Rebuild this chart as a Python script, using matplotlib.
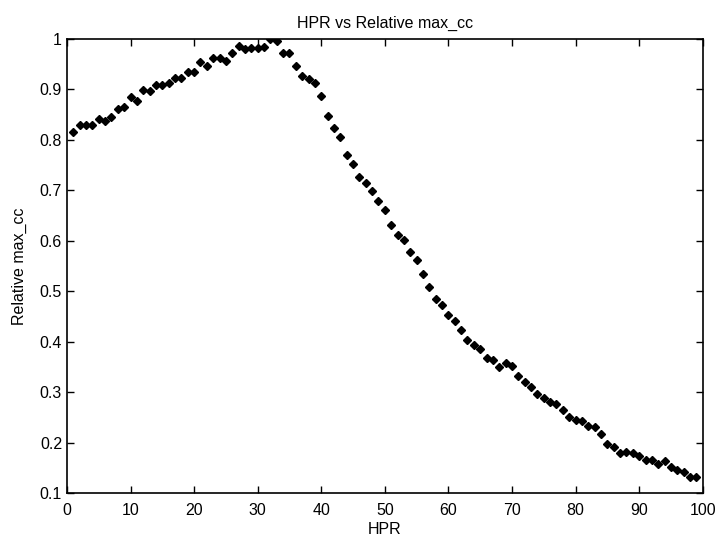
import matplotlib
matplotlib.use("Agg")
import matplotlib.pyplot as plt

hpr = list(range(1, 100))
rel_max_cc = [
    0.815, 0.829, 0.829, 0.829, 0.841, 0.838, 0.846, 0.861, 0.866, 0.884,
    0.878, 0.898, 0.897, 0.908, 0.909, 0.912, 0.923, 0.923, 0.935, 0.935,
    0.955, 0.946, 0.963, 0.963, 0.957, 0.972, 0.987, 0.981, 0.982, 0.982,
    0.985, 1.000, 0.996, 0.972, 0.972, 0.946, 0.927, 0.921, 0.912, 0.886,
    0.847, 0.823, 0.806, 0.770, 0.752, 0.726, 0.715, 0.698, 0.678, 0.661,
    0.631, 0.612, 0.601, 0.578, 0.561, 0.534, 0.509, 0.484, 0.472, 0.452,
    0.441, 0.424, 0.403, 0.393, 0.385, 0.368, 0.364, 0.350, 0.358, 0.351,
    0.331, 0.320, 0.311, 0.297, 0.289, 0.280, 0.277, 0.265, 0.251, 0.245,
    0.243, 0.232, 0.230, 0.216, 0.198, 0.192, 0.179, 0.181, 0.179, 0.173,
    0.165, 0.166, 0.158, 0.163, 0.151, 0.146, 0.141, 0.132, 0.132,
]

x_ticks = [0, 10, 20, 30, 40, 50, 60, 70, 80, 90, 100]
y_ticks = [0.1, 0.2, 0.3, 0.4, 0.5, 0.6, 0.7, 0.8, 0.9, 1.0]
y_tick_labels = ["0.1", "0.2", "0.3", "0.4", "0.5", "0.6", "0.7", "0.8", "0.9", "1"]

plt.rcParams["font.family"] = ["Liberation Sans", "DejaVu Sans"]

fig = plt.figure(figsize=(7.2, 5.38), dpi=100)
ax = fig.add_axes([0.093, 0.0836, 0.883, 0.844])

ax.plot(hpr, rel_max_cc, linestyle="none", marker="D", markersize=4.2,
        color="black")

ax.set_xlim(0, 100)
ax.set_ylim(0.1, 1)
ax.set_xticks(x_ticks)
ax.set_yticks(y_ticks)
ax.set_yticklabels(y_tick_labels)
ax.tick_params(direction="in", top=True, right=True, length=5,
               labelsize=11.5, width=1)
ax.tick_params(axis="x", pad=7)
for s in ax.spines.values():
    s.set_linewidth(1.2)

ax.set_xlabel("HPR", fontsize=11.5, labelpad=3)
ax.set_ylabel("Relative max_cc", fontsize=11.5, labelpad=9)
ax.set_title("HPR vs Relative max_cc", fontsize=11.5, pad=8)

fig.savefig("out.png", dpi=100)
